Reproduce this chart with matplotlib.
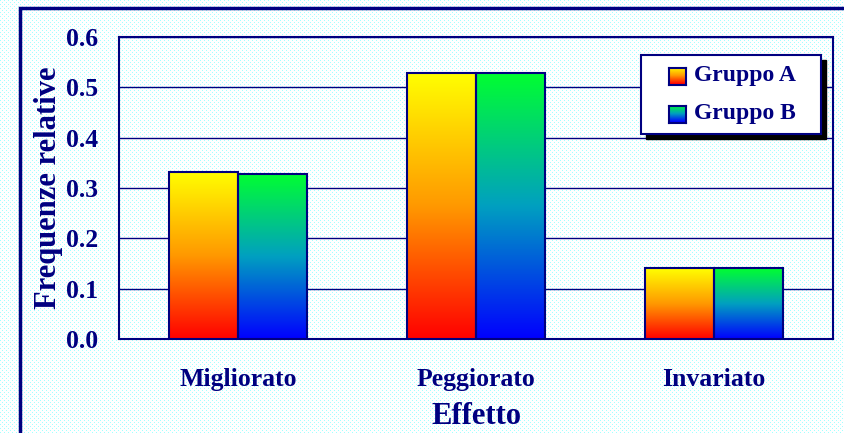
import numpy as np
import matplotlib.pyplot as plt
from matplotlib.colors import LinearSegmentedColormap
from matplotlib.patches import Rectangle

categories = ['Migliorato', 'Peggiorato', 'Invariato']
gruppo_a = [0.332, 0.529, 0.141]
gruppo_b = [0.328, 0.529, 0.141]
series_names = ['Gruppo A', 'Gruppo B']
yticks = [0.0, 0.1, 0.2, 0.3, 0.4, 0.5, 0.6]

navy = '#000080'
cmap_a = LinearSegmentedColormap.from_list('a', ['#ff0000', '#ff9900', '#ffff00'])
cmap_b = LinearSegmentedColormap.from_list('b', ['#0000ff', '#00a0c0', '#00ff30'])

W, H = 845, 433
fig = plt.figure(figsize=(W / 100, H / 100), dpi=100)

# dotted cyan background
bg = np.ones((H, W, 3))
bg[::4, ::4] = [0.65, 1.0, 1.0]
bg[2::4, 2::4] = [0.65, 1.0, 1.0]
fig.figimage(bg, xo=0, yo=0, zorder=-5)

# outer border
fig.patches.append(Rectangle((20 / W, -0.05), 1.0, (H - 8) / H + 0.05,
                             transform=fig.transFigure, fill=False,
                             edgecolor=navy, lw=2.5, zorder=1))

ax = fig.add_axes([119 / W, (H - 339) / H, 714 / W, 302 / H], zorder=2)
ax.patch.set_alpha(0)

width = 0.29
grad = np.linspace(0, 1, 256).reshape(-1, 1)
x = np.arange(len(categories))
for vals, cmap, off in [(gruppo_a, cmap_a, -width / 2), (gruppo_b, cmap_b, width / 2)]:
    for xi, v in zip(x, vals):
        x0 = xi + off - width / 2
        ax.imshow(grad, cmap=cmap, origin='lower', aspect='auto',
                  extent=[x0, x0 + width, 0, v], zorder=3)
        ax.add_patch(Rectangle((x0, 0), width, v, fill=False,
                               edgecolor=navy, lw=1.5, zorder=4))

ax.set_xlim(-0.5, 2.5)
ax.set_ylim(0, 0.6)
ax.set_yticks(yticks)
ax.set_yticklabels([f'{t:.1f}' for t in yticks])
ax.set_xticks(x)
ax.set_xticklabels(categories)
ax.grid(axis='y', color=navy, lw=1, zorder=1)
ax.set_axisbelow(True)
ax.tick_params(length=0)
ax.tick_params(axis='x', pad=21)
ax.tick_params(axis='y', pad=15)
for lab in ax.get_xticklabels() + ax.get_yticklabels():
    lab.set_fontfamily('Liberation Serif')
    lab.set_fontweight('bold')
    lab.set_fontsize(18.5)
    lab.set_color(navy)
for s in ax.spines.values():
    s.set_color(navy)
    s.set_linewidth(1.5)

ax.set_ylabel('Frequenze relative', fontfamily='Liberation Serif', fontweight='bold',
              fontsize=22, color=navy, labelpad=2)
ax.set_xlabel('Effetto', fontfamily='Liberation Serif', fontweight='bold',
              fontsize=22, color=navy, labelpad=8)

# legend with shadow
lx0, ly0, lx1, ly1 = 641, 55, 821, 134
fig.patches.append(Rectangle(((lx0 + 5) / W, (H - ly1 - 5) / H), (lx1 - lx0) / W, (ly1 - ly0) / H,
                             transform=fig.transFigure, facecolor='black',
                             edgecolor='black', zorder=5))
fig.patches.append(Rectangle((lx0 / W, (H - ly1) / H), (lx1 - lx0) / W, (ly1 - ly0) / H,
                             transform=fig.transFigure, facecolor='white',
                             edgecolor=navy, lw=1.5, zorder=6))
for i, (name, cmap) in enumerate(zip(series_names, [cmap_a, cmap_b])):
    yc = 76 + i * 38
    sq = fig.add_axes([669 / W, (H - yc - 8.5) / H, 17 / W, 17 / H], zorder=7)
    sq.imshow(grad, cmap=cmap, origin='lower', aspect='auto')
    sq.set_xticks([])
    sq.set_yticks([])
    for s in sq.spines.values():
        s.set_color(navy)
        s.set_linewidth(1.5)
    fig.text(694 / W, (H - yc) / H, name, fontfamily='Liberation Serif', fontweight='bold',
             fontsize=17, color=navy, va='center', ha='left', zorder=8)

fig.savefig('out.png', dpi=100)
